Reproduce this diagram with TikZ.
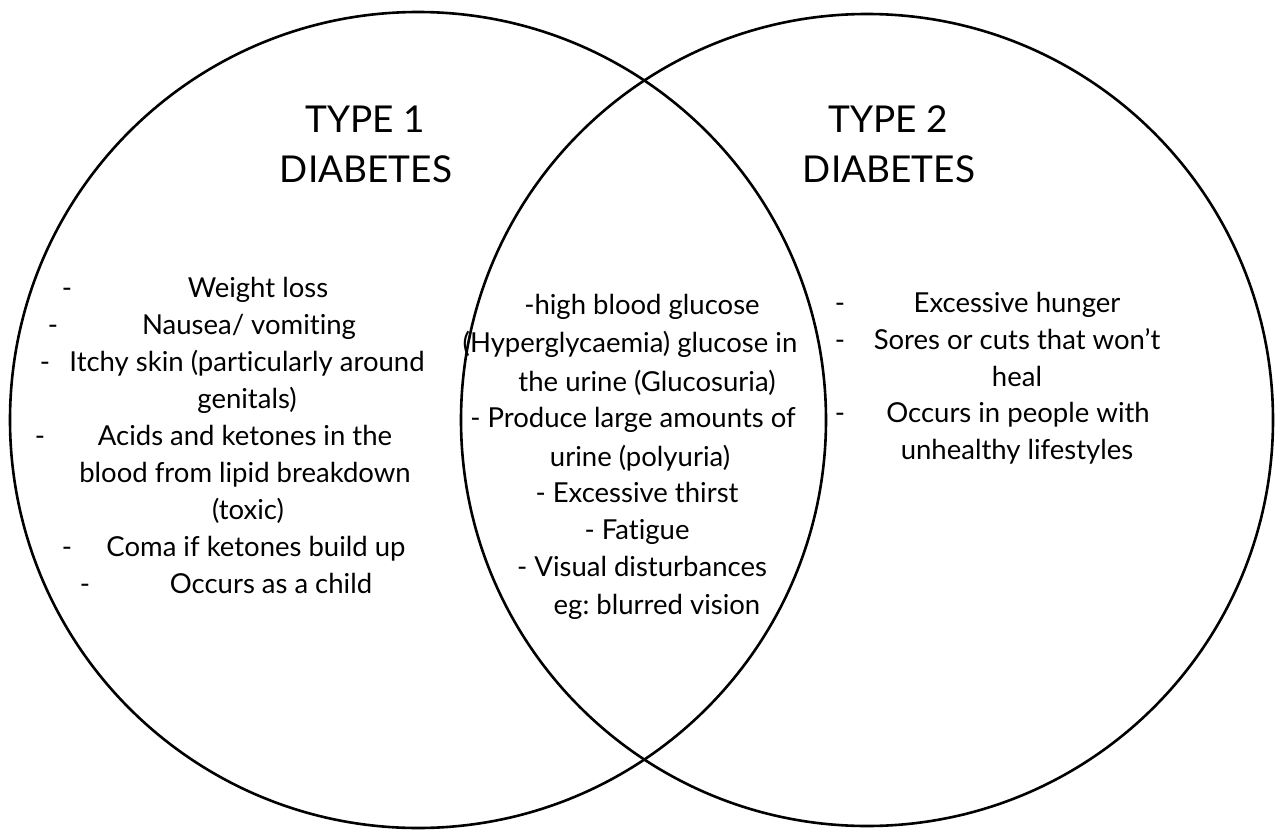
\documentclass[tikz,border=0pt]{standalone}
\usepackage{fontspec}
\setmainfont{Lato}[Ligatures=NoCommon]
\frenchspacing
\tikzset{
  heading/.style={font=\fontsize{37}{50}\selectfont, inner sep=0pt, anchor=base},
  entry/.style={font=\fontsize{27.5}{37}\selectfont, inner sep=0pt, anchor=base},
  bullet/.style={font=\fontsize{27.5}{37}\selectfont, inner sep=0pt, anchor=base}
}
\begin{document}
\begin{tikzpicture}[x=1pt,y=-1pt]
\useasboundingbox (0,0) rectangle (1275,830);
% the two sets
\draw[line width=2.6pt] (418,420) circle (408pt);
\draw[line width=2.6pt] (867,420) circle (406pt);
% headings
\node[heading] (t1a) at (365,132) {TYPE 1};
\node[heading] (t1b) at (366,182) {DIABETES};
\node[heading] (t2a) at (888,132) {TYPE 2};
\node[heading] (t2b) at (889,182) {DIABETES};
% type 1 only
\node[entry] (a1) at (258,297) {Weight loss};
\node[entry] (a2) at (249,334) {Nausea/ vomiting};
\node[entry] (a3) at (247,371) {Itchy skin (particularly around};
\node[entry] (a4) at (247,408) {genitals)};
\node[entry] (a5) at (245,445) {Acids and ketones in the};
\node[entry] (a6) at (245,482) {blood from lipid breakdown};
\node[entry] (a7) at (248,519) {(toxic)};
\node[entry] (a8) at (256,556) {Coma if ketones build up};
\node[entry] (a9) at (271,593) {Occurs as a child};
\node[bullet] (d1) at (67,297) {-};
\node[bullet] (d2) at (53,334) {-};
\node[bullet] (d3) at (45,371) {-};
\node[bullet] (d5) at (40,445) {-};
\node[bullet] (d8) at (67,556) {-};
\node[bullet] (d9) at (85,593) {-};
% both types
\node[entry] (b1) at (642,314) {-high blood glucose};
\node[entry] (b2) at (630,352) {(Hyperglycaemia) glucose in};
\node[entry] (b3) at (647,391) {the urine (Glucosuria)};
\node[entry] (b4) at (633,427) {- Produce large amounts of};
\node[entry] (b5) at (640,466) {urine (polyuria)};
\node[entry] (b6) at (637,502) {- Excessive thirst};
\node[entry] (b7) at (637,539) {- Fatigue};
\node[entry] (b8) at (642,576) {- Visual disturbances};
\node[entry] (b9) at (657,614) {eg: blurred vision};
% type 2 only
\node[entry] (c1) at (1017,312) {Excessive hunger};
\node[entry] (c2) at (1017,349) {Sores or cuts that won’t};
\node[entry] (c3) at (1017,386) {heal};
\node[entry] (c4) at (1018,422) {Occurs in people with};
\node[entry] (c5) at (1017,459) {unhealthy lifestyles};
\node[bullet] (e1) at (840,312) {-};
\node[bullet] (e2) at (840,349) {-};
\node[bullet] (e4) at (840,422) {-};
\end{tikzpicture}
\end{document}
